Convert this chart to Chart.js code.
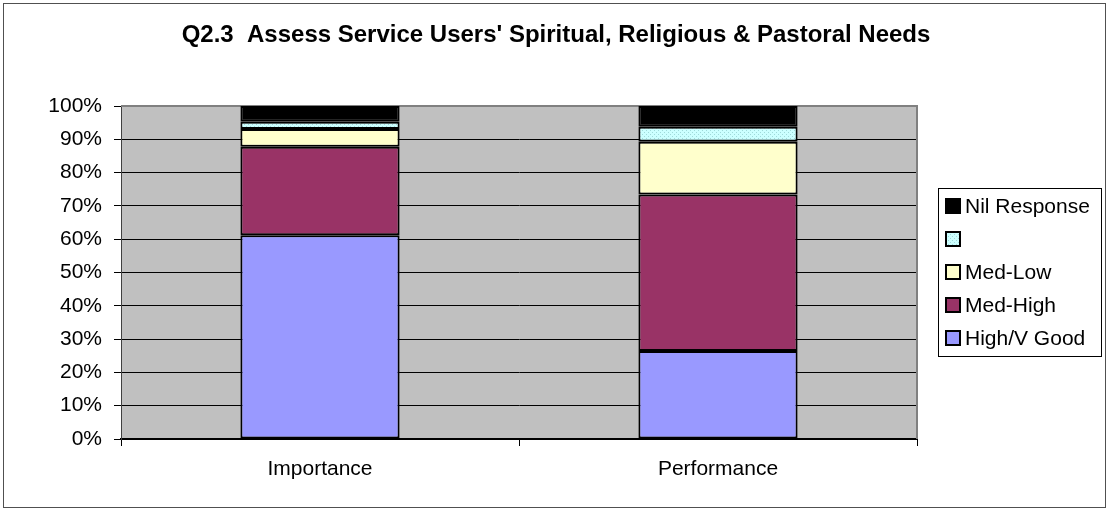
<!DOCTYPE html>
<html>
<head>
<meta charset="utf-8">
<script src="https://cdn.jsdelivr.net/npm/chart.js@4"></script>
<style>
  html, body { margin: 0; padding: 0; background: #fff; }
  canvas { display: block; }
</style>
</head>
<body>
<canvas id="chart" width="1109" height="510"></canvas>
<script>
// chart data (percent of responses)
const categories = ["Importance", "Performance"];
const seriesNames = ["High/V Good", "Med-High", "Med-Low", "", "Nil Response"];
const highGood = [61.2, 26.4];
const medHigh = [26.6, 47.0];
const medLow = [5.3, 15.9];
const blankSeries = [2.2, 4.5];
const nilResponse = [4.7, 6.2];
const yTicks = [0, 10, 20, 30, 40, 50, 60, 70, 80, 90, 100];

const titleText = "Q2.3  Assess Service Users' Spiritual, Religious & Pastoral Needs";
const FONT = "'Liberation Sans', Arial, sans-serif";

/**
 * Light cyan fill with small dots, like the old spreadsheet pattern.
 */
function dottedCyan(ctx) {
  const c = document.createElement("canvas");
  c.width = 4;
  c.height = 4;
  const p = c.getContext("2d");
  p.fillStyle = "#CCFFFF";
  p.fillRect(0, 0, 4, 4);
  p.fillStyle = "#9FD9D9";
  p.fillRect(0, 0, 1, 1);
  p.fillRect(2, 2, 1, 1);
  return ctx.createPattern(c, "repeat");
}

const canvas = document.getElementById("chart");
const ctx = canvas.getContext("2d");

const fills = ["#9999FF", "#993366", "#FFFFCC", dottedCyan(ctx), "#000000"];
const seriesData = [highGood, medHigh, medLow, blankSeries, nilResponse];

const datasets = seriesNames.map((name, i) => ({
  label: name,
  data: seriesData[i],
  backgroundColor: fills[i],
  borderColor: "#000000",
  borderWidth: 2,
  borderSkipped: false,
  categoryPercentage: 1.0,
  barPercentage: 0.4
}));

/**
 * Background, frame, title and legend box.
 */
const decorPlugin = {
  id: "decor",
  beforeDraw(chart) {
    const c = chart.ctx;
    const a = chart.chartArea;
    c.save();
    c.fillStyle = "#ffffff";
    c.fillRect(0, 0, chart.width, chart.height);
    c.fillStyle = "#C0C0C0";
    c.fillRect(a.left, a.top, a.right - a.left, a.bottom - a.top);
    c.restore();
  },
  beforeDatasetsDraw(chart) {
    const c = chart.ctx;
    const a = chart.chartArea;
    c.save();
    c.strokeStyle = "#808080";
    c.lineWidth = 2;
    c.beginPath();
    c.moveTo(a.left, a.top);
    c.lineTo(a.right, a.top);
    c.lineTo(a.right, a.bottom);
    c.stroke();
    c.restore();
  },
  afterDraw(chart) {
    const c = chart.ctx;
    c.save();

    // outer frame
    c.strokeStyle = "#505050";
    c.lineWidth = 1;
    c.strokeRect(3.5, 3.5, 1102, 504);

    // title
    c.fillStyle = "#000000";
    c.font = "bold 24px " + FONT;
    c.textAlign = "center";
    c.textBaseline = "alphabetic";
    c.fillText(titleText, 556, 42);

    // legend
    c.strokeStyle = "#000000";
    c.lineWidth = 1;
    c.strokeRect(938.5, 188.5, 163, 168);
    c.font = "21px " + FONT;
    c.textAlign = "left";
    c.textBaseline = "middle";
    const ds = chart.data.datasets;
    for (let k = 0; k < ds.length; k++) {
      const d = ds[ds.length - 1 - k];
      const cy = 206 + k * 33;
      c.fillStyle = d.backgroundColor;
      c.fillRect(946, cy - 7, 14, 14);
      c.lineWidth = 2;
      c.strokeRect(946, cy - 7, 14, 14);
      c.fillStyle = "#000000";
      c.fillText(d.label, 965, cy + 1);
    }
    c.restore();
  }
};

new Chart(ctx, {
  type: "bar",
  data: { labels: categories, datasets },
  plugins: [decorPlugin],
  options: {
    responsive: false,
    devicePixelRatio: 1,
    animation: false,
    layout: { padding: { left: 0, right: 192, top: 106, bottom: 21 } },
    plugins: {
      legend: { display: false },
      title: { display: false },
      tooltip: { enabled: false }
    },
    scales: {
      x: {
        stacked: true,
        offset: true,
        afterFit: (scale) => { scale.height = 50; },
        grid: {
          offset: true,
          drawOnChartArea: false,
          color: "#000000",
          tickLength: 7
        },
        border: { color: "#000000", width: 2 },
        ticks: {
          color: "#000000",
          padding: 11,
          font: { family: FONT, size: 21 }
        }
      },
      y: {
        stacked: true,
        min: 0,
        max: 100,
        afterFit: (scale) => { scale.width = 121; },
        afterBuildTicks: (scale) => { scale.ticks = yTicks.map((v) => ({ value: v })); },
        grid: {
          color: "#000000",
          lineWidth: 1,
          tickLength: 7
        },
        border: { color: "#404040", width: 1 },
        ticks: {
          color: "#000000",
          padding: 12,
          font: { family: FONT, size: 21 },
          callback: (v) => v + "%"
        }
      }
    }
  }
});
</script>
</body>
</html>
